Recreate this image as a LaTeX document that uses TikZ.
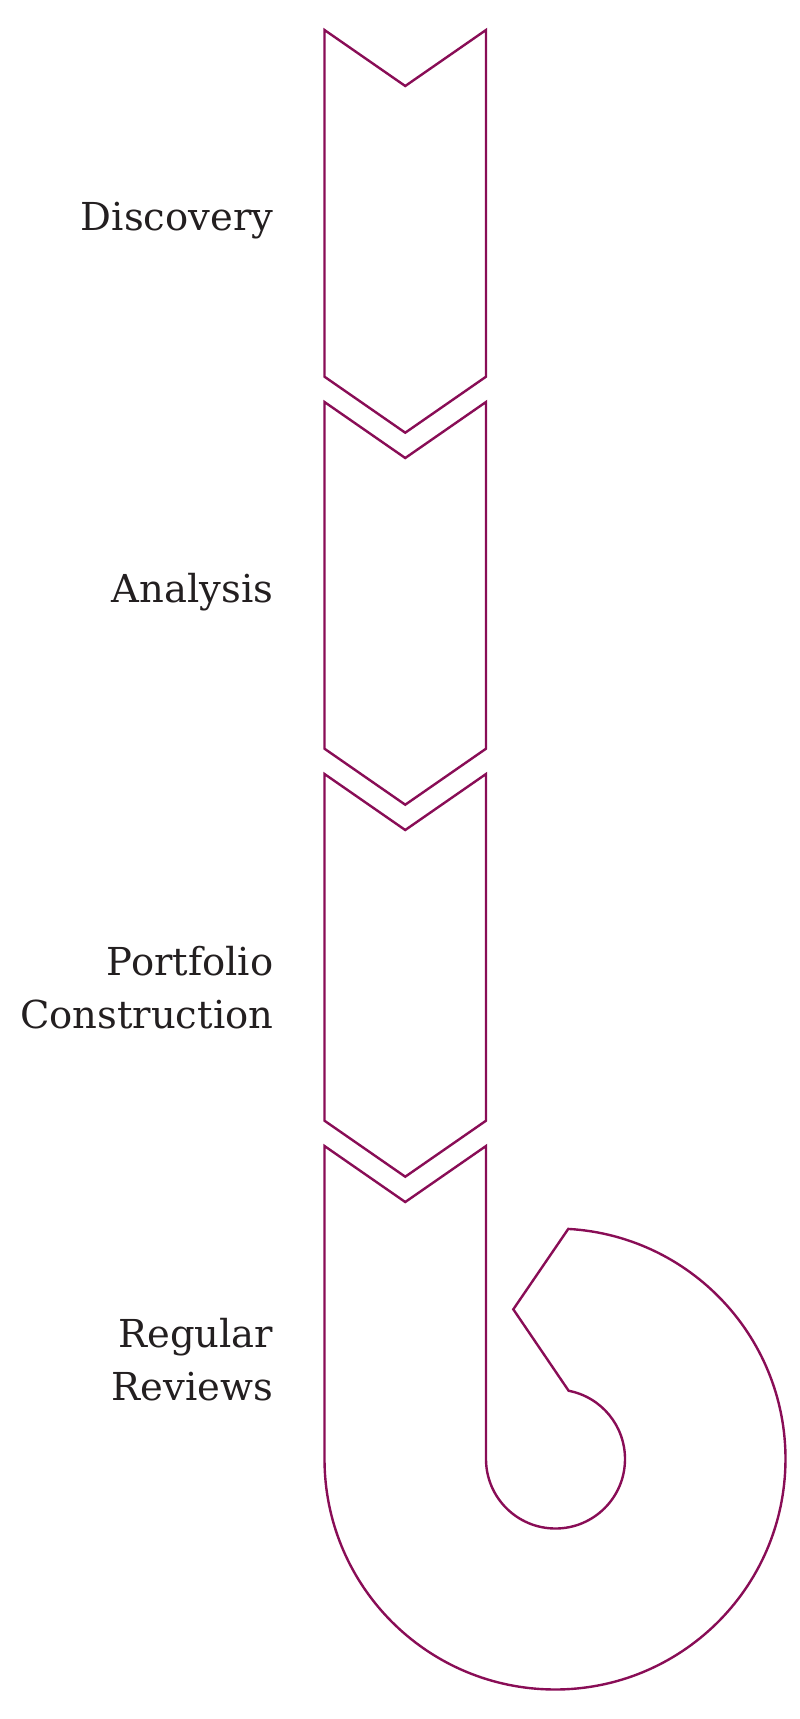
\documentclass[tikz,border=0pt]{standalone}
\usepackage{fontspec}
\setmainfont{DejaVu Serif}
\usetikzlibrary{calc}
\definecolor{plum}{RGB}{137,13,86}
\definecolor{ink}{RGB}{35,31,32}
\begin{document}
\begin{tikzpicture}[x=1pt,y=-1pt,
  outline/.style={draw=plum,line width=2.4pt,line join=miter,fill=white},
  label/.style={text=ink,font=\fontsize{38.5}{53}\selectfont,align=right,inner sep=0pt,anchor=base east}]
\useasboundingbox (0,0) rectangle (800,1719);
% three straight chevrons
\foreach \i in {0,1,2}{
  \pgfmathsetmacro{\yt}{30+372*\i}
  \draw[outline] (324.5,\yt) -- (405.25,\yt+56) -- (486,\yt) -- (486,\yt+346.7)
    -- (405.25,\yt+402.7) -- (324.5,\yt+346.7) -- cycle;
}
% fourth chevron turning into the hook
\coordinate (c) at (555,1459);
\draw[outline] (324.5,1146) -- (405.25,1202) -- (486,1146) -- (486,1459)
  arc[start angle=180,end angle=-79.1,radius=69.5]
  -- (513.3,1309.3)
  -- ($(c)+(-86.7:230.5)$)
  arc[start angle=-86.7,end angle=180,radius=230.5]
  -- cycle;
\node[label] (discovery) at (273.5,230) {Discovery};
\node[label] (analysis) at (273.5,602) {Analysis};
\node[label] (portfolio) at (273.5,1028) {Portfolio\\Construction};
\node[label] (reviews) at (273.5,1400) {Regular\\Reviews};
\end{tikzpicture}
\end{document}
